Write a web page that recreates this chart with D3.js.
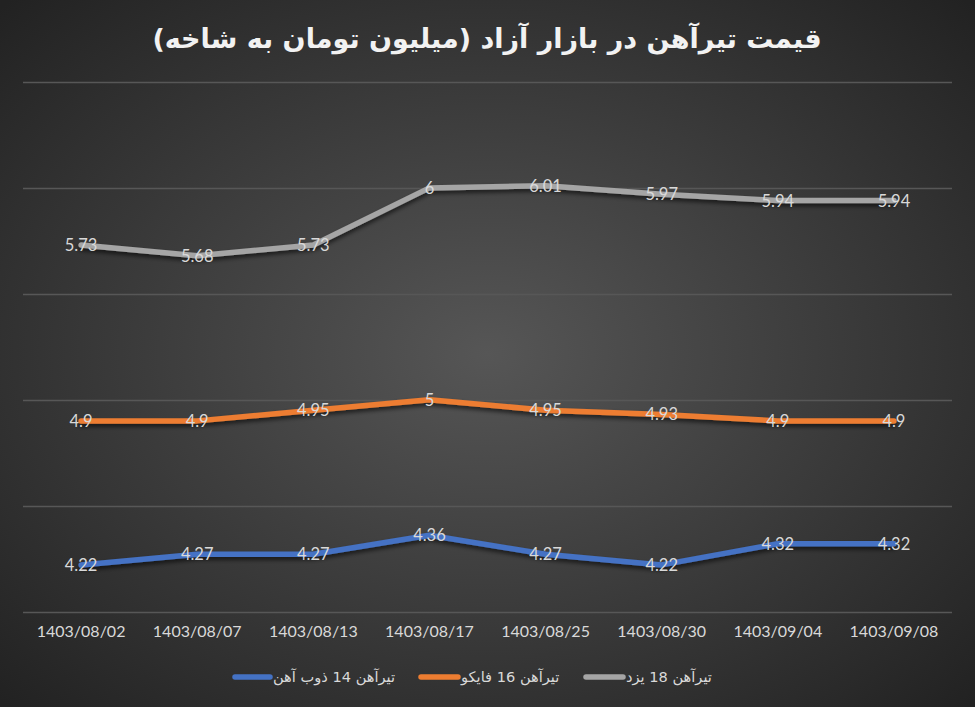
<!DOCTYPE html>
<html>
<head>
<meta charset="utf-8">
<script src="https://cdn.jsdelivr.net/npm/d3@7"></script>
<style>
  html, body { margin: 0; padding: 0; background: #262626; }
  svg { display: block; }
</style>
</head>
<body>
<svg id="chart" width="975" height="707"></svg>
<script>
const titleText = "قیمت تیرآهن در بازار آزاد (میلیون تومان به شاخه)";
const categories = ["1403/08/02", "1403/08/07", "1403/08/13", "1403/08/17", "1403/08/25", "1403/08/30", "1403/09/04", "1403/09/08"];
const seriesNames = ["تیرآهن 14 ذوب آهن", "تیرآهن 16 فایکو", "تیرآهن 18 یزد"];
const zobAhan14 = [4.22, 4.27, 4.27, 4.36, 4.27, 4.22, 4.32, 4.32];
const faiko16 = [4.9, 4.9, 4.95, 5, 4.95, 4.93, 4.9, 4.9];
const yazd18 = [5.73, 5.68, 5.73, 6, 6.01, 5.97, 5.94, 5.94];
const gridTicks = [4, 4.5, 5, 5.5, 6, 6.5];
const seriesColors = ["#4472C4", "#ED7D31", "#A5A5A5"];

const series = [zobAhan14, faiko16, yazd18].map((vals, i) => ({ name: seriesNames[i], values: vals, color: seriesColors[i] }));

const W = 975, H = 707;
const svg = d3.select("#chart");
const defs = svg.append("defs");

const grad = defs.append("radialGradient").attr("id", "bg")
  .attr("cx", "50%").attr("cy", "50%").attr("r", "70%");
grad.append("stop").attr("offset", "0%").attr("stop-color", "#565656");
grad.append("stop").attr("offset", "100%").attr("stop-color", "#222222");

const shadow = defs.append("filter").attr("id", "shadow")
  .attr("x", "-10%").attr("y", "-50%").attr("width", "120%").attr("height", "200%");
shadow.append("feDropShadow").attr("dx", 0).attr("dy", 3).attr("stdDeviation", 2.2)
  .attr("flood-color", "#000").attr("flood-opacity", 0.6);

svg.append("rect").attr("width", W).attr("height", H).attr("fill", "url(#bg)");

const x = d3.scaleBand().domain(categories).range([23, 952]);
const y = d3.scaleLinear().domain([4, 6.5]).range([611.5, 82]);

// gridlines
svg.append("g").selectAll("line").data(gridTicks).join("line")
  .attr("x1", 23).attr("x2", 952)
  .attr("y1", d => Math.round(y(d)) + 0.5).attr("y2", d => Math.round(y(d)) + 0.5)
  .attr("stroke", "#575757").attr("stroke-width", 1.3);

// x axis labels
const xAxis = d3.axisBottom(x).tickSize(0).tickPadding(0);
const gx = svg.append("g").attr("transform", "translate(0,626)").call(xAxis);
gx.select(".domain").remove();
gx.selectAll("text").attr("fill", "#d9d9d9").attr("font-size", "16px")
  .attr("font-family", "Lato, 'Open Sans', sans-serif");

// lines
const line = d3.line().x((d, i) => x(categories[i]) + x.bandwidth() / 2).y(d => y(d));
svg.append("g").selectAll("path").data(series).join("path")
  .attr("d", d => line(d.values))
  .attr("fill", "none").attr("stroke", d => d.color).attr("stroke-width", 5.5)
  .attr("stroke-linecap", "round").attr("stroke-linejoin", "round")
  .attr("filter", "url(#shadow)");

// data labels
const lab = svg.append("g");
series.forEach(s => {
  lab.selectAll(null).data(s.values).join("text")
    .attr("x", (d, i) => x(categories[i]) + x.bandwidth() / 2)
    .attr("y", d => y(d))
    .attr("dy", "0.36em")
    .attr("text-anchor", "middle")
    .attr("fill", "#d9d9d9").attr("font-size", "16.5px")
    .attr("font-family", "Lato, 'Open Sans', sans-serif")
    .text(d => d);
});

// title
svg.append("text")
  .attr("x", 487).attr("y", 48)
  .attr("text-anchor", "middle")
  .attr("direction", "rtl")
  .attr("fill", "#f2f2f2").attr("font-size", "27px").attr("font-weight", "bold")
  .attr("font-family", "'DejaVu Sans', sans-serif")
  .text(titleText);

// legend
const legendItems = [
  { s: series[0], lx: 232, tx: 273 },
  { s: series[1], lx: 418, tx: 461 },
  { s: series[2], lx: 583, tx: 626 }
];
const lg = svg.append("g");
legendItems.forEach(it => {
  lg.append("line").attr("x1", it.lx + 3).attr("x2", it.tx - 3)
    .attr("y1", 677).attr("y2", 677)
    .attr("stroke", it.s.color).attr("stroke-width", 5.5).attr("stroke-linecap", "round");
  lg.append("text").attr("x", it.tx).attr("y", 682)
    .attr("fill", "#d9d9d9").attr("font-size", "14.6px")
    .attr("font-family", "'DejaVu Sans', sans-serif")
    .text(it.s.name);
});
</script>
</body>
</html>
